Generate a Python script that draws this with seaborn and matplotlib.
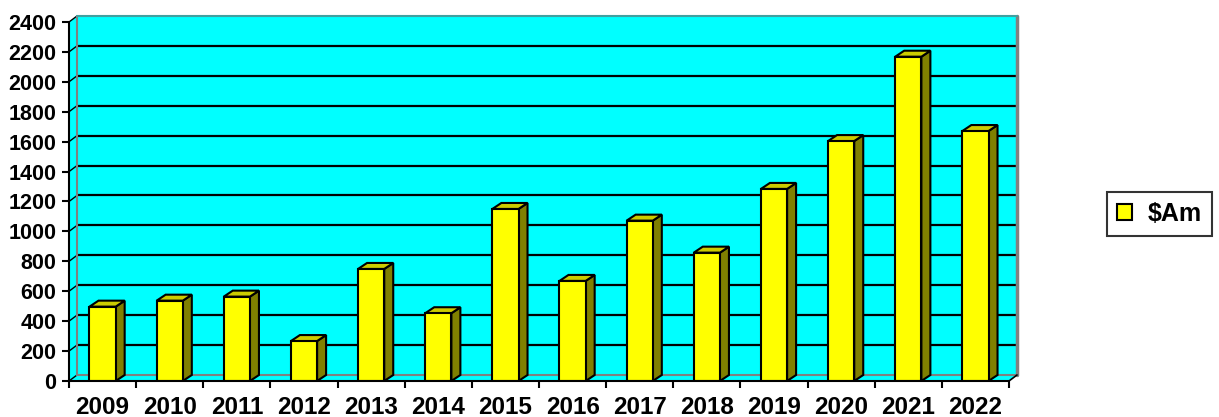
import numpy as np
import pandas as pd
import matplotlib
matplotlib.use("Agg")
import matplotlib.pyplot as plt
from matplotlib.patches import Polygon
import seaborn as sns

# ---- data ----
years = ["2009", "2010", "2011", "2012", "2013", "2014", "2015",
         "2016", "2017", "2018", "2019", "2020", "2021", "2022"]
values = [497, 537, 564, 267, 749, 453, 1150, 669, 1072, 858, 1284, 1604, 2168, 1671]
y_ticks = [0, 200, 400, 600, 800, 1000, 1200, 1400, 1600, 1800, 2000, 2200, 2400]
series_name = "$Am"

sns.set_theme(style="white")
plt.rcParams["font.family"] = ["Liberation Sans", "DejaVu Sans"]
plt.rcParams["font.weight"] = "bold"
plt.rcParams["text.color"] = "black"
plt.rcParams["xtick.color"] = "black"
plt.rcParams["ytick.color"] = "black"
plt.rcParams["xtick.labelcolor"] = "black"
plt.rcParams["ytick.labelcolor"] = "black"

CYAN = "#00FFFF"
YELLOW = "#FFFF00"
SIDE = "#808000"
TOP = "#CCCC00"
GRAY = "#808080"

W, H = 1219, 417
fig = plt.figure(figsize=(W / 100, H / 100), dpi=100)
L, R, T, B = 69, 1009, 22, 381
ax = fig.add_axes([L / W, 1 - B / H, (R - L) / W, (B - T) / H])
n = len(years)
ymax = y_ticks[-1]
ax.set_xlim(-0.5, n - 0.5)
ax.set_ylim(0, ymax)
ax.patch.set_visible(False)
for s in ax.spines.values():
    s.set_visible(False)

kx = (R - L) / n          # px per category
ky = (B - T) / ymax       # px per unit
wdx, wdy = 8 / kx, 6 / ky   # wall depth
bdx, bdy = 9 / kx, 6 / ky   # bar depth
x0, x1 = -0.5, n - 0.5

# back wall
ax.add_patch(Polygon([(x0 + wdx, wdy), (x1 + wdx, wdy), (x1 + wdx, ymax + wdy), (x0 + wdx, ymax + wdy)],
                     closed=True, facecolor=CYAN, edgecolor="none", clip_on=False, zorder=0))
# left side wall
ax.add_patch(Polygon([(x0, 0), (x0, ymax), (x0 + wdx, ymax + wdy), (x0 + wdx, wdy)],
                     closed=True, facecolor=CYAN, edgecolor="none", clip_on=False, zorder=0))
# floor
ax.add_patch(Polygon([(x0, 0), (x1, 0), (x1 + wdx, wdy), (x0 + wdx, wdy)],
                     closed=True, facecolor=CYAN, edgecolor="none", clip_on=False, zorder=0.2))

# gridlines on back wall + side wall stubs
for v in y_ticks[1:-1]:
    ax.plot([x0 + wdx, x1 + wdx], [v + wdy, v + wdy], color="black", lw=1.6, clip_on=False, zorder=0.5,
            solid_capstyle="butt")
for v in y_ticks:
    ax.plot([x0, x0 + wdx], [v, v + wdy], color="black", lw=1.0, clip_on=False, zorder=0.5)

# wall edges
ax.plot([x0 + wdx, x0 + wdx], [wdy, ymax + wdy], color=GRAY, lw=1.5, clip_on=False, zorder=0.6)
ax.plot([x1 + wdx, x1 + wdx], [wdy, ymax + wdy], color=GRAY, lw=2.5, clip_on=False, zorder=0.6)
ax.plot([x0 + wdx, x1 + wdx], [ymax + wdy, ymax + wdy], color="#40A0A0", lw=1.5, clip_on=False, zorder=0.6)
ax.plot([x0 + wdx, x1 + wdx], [wdy, wdy], color=GRAY, lw=1.5, clip_on=False, zorder=0.6)
ax.plot([x1, x1 + wdx], [0, wdy], color="black", lw=1.2, clip_on=False, zorder=0.6)

# front axes lines
ax.plot([x0, x0], [0, ymax], color="black", lw=1.5, clip_on=False, zorder=3)
ax.plot([x0, x1], [0, 0], color="black", lw=1.5, clip_on=False, zorder=3)

# bars (front faces)
df = pd.DataFrame({"year": years, "value": values})
sns.barplot(data=df, x="year", y="value", color=YELLOW, saturation=1, width=0.39,
            edgecolor="black", linewidth=1.5, ax=ax, label=series_name, zorder=2)

for p in list(ax.patches):
    if not hasattr(p, "get_x") or p.get_height() <= 0 or p.get_facecolor()[:3] != (1.0, 1.0, 0.0):
        continue
    bx, bw, bh = p.get_x(), p.get_width(), p.get_height()
    ax.add_patch(Polygon([(bx + bw, 0), (bx + bw, bh), (bx + bw + bdx, bh + bdy), (bx + bw + bdx, bdy)],
                         closed=True, facecolor=SIDE, edgecolor="black", lw=1.5, zorder=1.9, clip_on=False))
    ax.add_patch(Polygon([(bx, bh), (bx + bw, bh), (bx + bw + bdx, bh + bdy), (bx + bdx, bh + bdy)],
                         closed=True, facecolor=TOP, edgecolor="black", lw=1.5, zorder=1.9, clip_on=False,
                         joinstyle="miter"))

# ticks
ax.set_yticks(y_ticks)
ax.set_yticklabels([str(v) for v in y_ticks], fontsize=15.5, fontweight="bold", color="black")
ax.tick_params(axis="y", direction="out", length=5, width=1.5, color="black", pad=4, left=True)
ax.set_xticks(range(n))
ax.set_xticklabels(years, fontsize=17.5, fontweight="bold", color="black")
ax.set_xticks(np.arange(-0.5, n, 1), minor=True)
ax.tick_params(axis="x", which="major", length=0, pad=11, bottom=True)
ax.tick_params(axis="x", which="minor", direction="out", length=5, width=1.5, color="black", bottom=True)
ax.set_xlabel("")
ax.set_ylabel("")

leg = ax.legend(loc="center left", bbox_to_anchor=(1107 / W, 1 - 214 / H),
                bbox_transform=fig.transFigure, frameon=True, fancybox=False,
                prop={"size": 18, "weight": "bold"}, handlelength=0.6, handleheight=0.6,
                handletextpad=0.64, borderpad=0.4, borderaxespad=0)
leg.get_frame().set_edgecolor("black")
leg.get_frame().set_linewidth(1.5)
leg.get_frame().set_facecolor("white")
for t in leg.get_texts():
    t.set_color("black")

fig.savefig("out.png", dpi=100)
